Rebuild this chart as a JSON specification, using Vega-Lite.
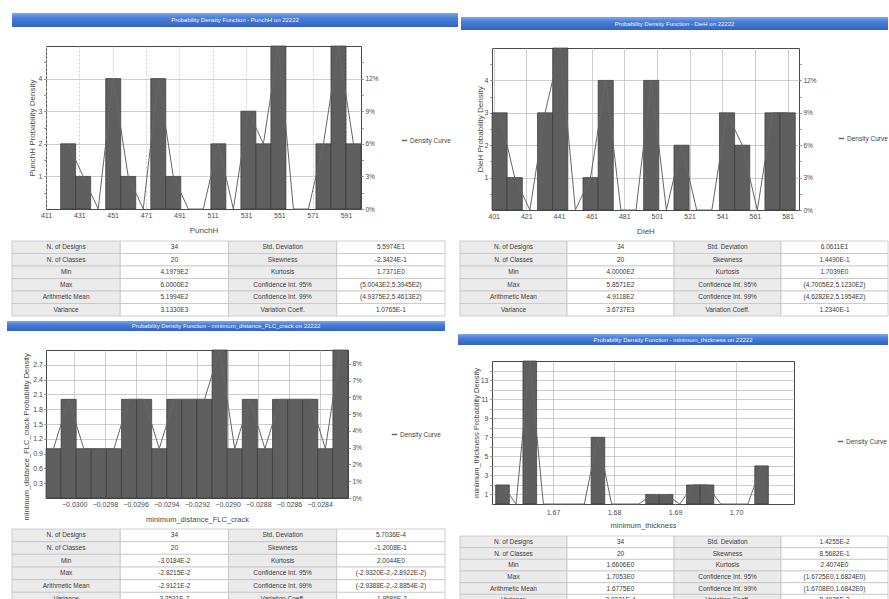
{
  "$schema": "https://vega.github.io/schema/vega-lite/v6.json",
  "padding": {"left": 7, "top": 13, "right": 0, "bottom": 0},
  "background": "white",
  "config": {
    "view": {"stroke": null},
    "font": "Liberation Sans",
    "axis": {
      "labelFont": "Liberation Sans", "labelFontSize": 7, "labelColor": "#4a4a4a",
      "titleFont": "Liberation Sans", "titleFontSize": 8, "titleFontWeight": "normal", "titleColor": "#4a4a4a",
      "domain": false, "gridColor": "#c2c2c2", "gridWidth": 0.8, "tickColor": "#808080", "tickWidth": 0.8,
      "labelOverlap": false, "labelFlush": false
    },
    "legend": {"labelFont": "Liberation Sans"}
  },
  "spacing": 0,
  "resolve": {"scale": {"color": "independent", "x": "independent", "y": "independent"}, "legend": {"color": "independent"}},
  "hconcat": [
    {
      "spacing": 0,
      "resolve": {"scale": {"color": "independent", "x": "independent", "y": "independent"}, "legend": {"color": "independent"}},
      "vconcat": [
        {
          "width": 412, "height": 30,
          "data": {"values": [{"label": "Probability Density Function - PunchH on 22222"}]},
          "layer": [
            {"mark": {"type": "rect", "color": {"gradient": "linear", "x1": 0, "y1": 0, "x2": 0, "y2": 1, "stops": [{"offset": 0, "color": "#7ea8ec"}, {"offset": 0.35, "color": "#4a7ed8"}, {"offset": 1, "color": "#3363c4"}]}},
             "encoding": {
               "x": {"datum": 0, "type": "quantitative", "scale": {"domain": [0, 1], "range": [-34, 412]}, "axis": null},
               "x2": {"datum": 1},
               "y": {"datum": 0, "type": "quantitative", "scale": {"domain": [0, 1], "range": [0, 14]}, "axis": null},
               "y2": {"datum": 1}
             }},
            {"mark": {"type": "text", "fontSize": 6, "color": "#fbf8e4"},
             "encoding": {
               "x": {"datum": 0.5, "type": "quantitative"},
               "y": {"datum": 0.5, "type": "quantitative"},
               "text": {"field": "label"}
             }}
          ]
        },
        {
          "width": 315, "height": 163,
          "view": {"stroke": "#4a4a4a", "strokeWidth": 1},
          "data": {"values": [
            {"lo": 419.79, "hi": 428.80, "mid": 424.30, "n": 2},
            {"lo": 428.80, "hi": 437.81, "mid": 433.31, "n": 1},
            {"lo": 437.81, "hi": 446.82, "mid": 442.32, "n": 0},
            {"lo": 446.82, "hi": 455.83, "mid": 451.32, "n": 4},
            {"lo": 455.83, "hi": 464.84, "mid": 460.34, "n": 1},
            {"lo": 464.84, "hi": 473.85, "mid": 469.35, "n": 0},
            {"lo": 473.85, "hi": 482.86, "mid": 478.36, "n": 4},
            {"lo": 482.86, "hi": 491.87, "mid": 487.37, "n": 1},
            {"lo": 491.87, "hi": 500.88, "mid": 496.38, "n": 0},
            {"lo": 500.88, "hi": 509.90, "mid": 505.39, "n": 0},
            {"lo": 509.90, "hi": 518.91, "mid": 514.40, "n": 2},
            {"lo": 518.91, "hi": 527.92, "mid": 523.41, "n": 0},
            {"lo": 527.92, "hi": 536.93, "mid": 532.42, "n": 3},
            {"lo": 536.93, "hi": 545.94, "mid": 541.43, "n": 2},
            {"lo": 545.94, "hi": 554.95, "mid": 550.44, "n": 5},
            {"lo": 554.95, "hi": 563.96, "mid": 559.45, "n": 0},
            {"lo": 563.96, "hi": 572.97, "mid": 568.47, "n": 0},
            {"lo": 572.97, "hi": 581.98, "mid": 577.48, "n": 2},
            {"lo": 581.98, "hi": 590.99, "mid": 586.49, "n": 5},
            {"lo": 590.99, "hi": 600.00, "mid": 595.50, "n": 2}
          ]},
          "layer": [
            {
              "transform": [{"filter": "datum.n > 0"}],
              "mark": {"type": "rect", "fill": "#5f5f5f", "stroke": "#383838", "strokeWidth": 0.7},
              "encoding": {
                "x": {"field": "lo", "type": "quantitative", "title": "PunchH",
                      "scale": {"domain": [411, 600], "nice": false, "zero": false},
                      "axis": {"values": [411, 431, 451, 471, 491, 511, 531, 551, 571, 591], "format": "d", "grid": true, "gridDash": [2, 2], "ticks": false, "labelPadding": 2, "titlePadding": 8, "labelOverlap": false}},
                "x2": {"field": "hi"},
                "y": {"field": "n", "type": "quantitative", "title": "PunchH Probability Density",
                      "scale": {"domain": [0, 5], "nice": false},
                      "axis": {"orient": "left", "values": [0.5, 1, 1.5, 2, 2.5, 3, 3.5, 4, 4.5],
                               "labelExpr": "datum.value % 1 === 0 ? format(datum.value, 'd') : ''",
                               "gridOpacity": {"condition": {"test": "datum.value % 1 !== 0", "value": 0}, "value": 1},
                               "tickSize": 2.5, "labelPadding": 1.5, "minExtent": 20, "titleX": -9.5, "labelOverlap": false}}
              }
            },
            {
              "mark": {"type": "line", "strokeWidth": 1},
              "encoding": {
                "x": {"field": "mid", "type": "quantitative", "title": "PunchH",
                      "axis": {"values": [411, 431, 451, 471, 491, 511, 531, 551, 571, 591], "format": "d", "grid": true, "gridDash": [2, 2], "ticks": false, "labelPadding": 2, "titlePadding": 8, "labelOverlap": false}},
                "y": {"field": "n", "type": "quantitative", "title": null,
                      "axis": {"orient": "right", "grid": false, "values": [0, 0.5, 1, 1.5, 2, 2.5, 3, 3.5, 4, 4.5],
                               "labelExpr": "datum.value % 1 === 0 ? format(datum.value / 34, '.0%') : ''",
                               "tickSize": 2.5, "labelPadding": 1.5, "labelFontSize": 6.5, "labelOverlap": false}},
                "color": {"datum": "Density Curve", "type": "nominal", "scale": {"range": ["#666666"]},
                          "legend": {"orient": "none", "legendX": 355, "legendY": 91, "title": null, "padding": 0,
                                     "labelFontSize": 6.5, "labelColor": "#444", "symbolType": "stroke", "symbolSize": 30,
                                     "symbolStrokeWidth": 1.5, "symbolStrokeColor": "#444", "labelOffset": 2}}
              }
            }
          ],
          "resolve": {"axis": {"y": "independent"}}
        },
        {
          "width": 399, "height": 81,
          "data": {"values": [
            {"r": 1, "A": "N. of Designs", "B": "34", "C": "Std. Deviation", "D": "5.5974E1"},
            {"r": 2, "A": "N. of Classes", "B": "20", "C": "Skewness", "D": "-2.3424E-1"},
            {"r": 3, "A": "Min", "B": "4.1979E2", "C": "Kurtosis", "D": "1.7371E0"},
            {"r": 4, "A": "Max", "B": "6.0000E2", "C": "Confidence Int. 95%", "D": "(5.0043E2,5.3945E2)"},
            {"r": 5, "A": "Arithmetic Mean", "B": "5.1994E2", "C": "Confidence Int. 99%", "D": "(4.9375E2,5.4613E2)"},
            {"r": 6, "A": "Variance", "B": "3.1330E3", "C": "Variation Coeff.", "D": "1.0765E-1"}
          ]},
          "transform": [{"fold": ["A", "B", "C", "D"], "as": ["c", "t"]}],
          "encoding": {
            "x": {"field": "c", "type": "nominal", "scale": {"range": [-34, 399], "paddingInner": 0, "paddingOuter": 0}, "axis": null},
            "y": {"field": "r", "type": "ordinal", "scale": {"range": [6, 81], "paddingInner": 0, "paddingOuter": 0}, "axis": null}
          },
          "layer": [
            {"mark": {"type": "rect", "stroke": "#c4c4c4", "strokeWidth": 0.8},
             "encoding": {"fill": {"condition": {"test": "datum.c === 'A' || datum.c === 'C'", "value": "#ebebeb"}, "value": "#ffffff"}}},
            {"mark": {"type": "text", "fontSize": 6.5, "color": "#3a3a3a"},
             "encoding": {"text": {"field": "t"}}}
          ]
        },
        {
          "width": 399, "height": 30,
          "data": {"values": [{"label": "Probability Density Function - minimum_distance_FLC_crack on 22222"}]},
          "layer": [
            {"mark": {"type": "rect", "color": {"gradient": "linear", "x1": 0, "y1": 0, "x2": 0, "y2": 1, "stops": [{"offset": 0, "color": "#7ea8ec"}, {"offset": 0.35, "color": "#4a7ed8"}, {"offset": 1, "color": "#3363c4"}]}},
             "encoding": {
               "x": {"datum": 0, "type": "quantitative", "scale": {"domain": [0, 1], "range": [-39, 399]}, "axis": null},
               "x2": {"datum": 1},
               "y": {"datum": 0, "type": "quantitative", "scale": {"domain": [0, 1], "range": [4, 14]}, "axis": null},
               "y2": {"datum": 1}
             }},
            {"mark": {"type": "text", "fontSize": 6, "color": "#fbf8e4"},
             "encoding": {
               "x": {"datum": 0.5, "type": "quantitative"},
               "y": {"datum": 0.5, "type": "quantitative"},
               "text": {"field": "label"}
             }}
          ]
        },
        {
          "width": 302, "height": 148,
          "view": {"stroke": "#4a4a4a", "strokeWidth": 1},
          "data": {"values": [
            {"lo": -0.030184, "hi": -0.0300856, "mid": -0.0301348, "n": 1},
            {"lo": -0.0300856, "hi": -0.0299871, "mid": -0.0300364, "n": 2},
            {"lo": -0.0299871, "hi": -0.0298887, "mid": -0.0299379, "n": 1},
            {"lo": -0.0298887, "hi": -0.0297902, "mid": -0.0298395, "n": 1},
            {"lo": -0.0297902, "hi": -0.0296918, "mid": -0.0297410, "n": 1},
            {"lo": -0.0296918, "hi": -0.0295933, "mid": -0.0296426, "n": 2},
            {"lo": -0.0295933, "hi": -0.0294949, "mid": -0.0295441, "n": 2},
            {"lo": -0.0294949, "hi": -0.0293964, "mid": -0.0294457, "n": 1},
            {"lo": -0.0293964, "hi": -0.0292980, "mid": -0.0293472, "n": 2},
            {"lo": -0.0292980, "hi": -0.0291995, "mid": -0.0292488, "n": 2},
            {"lo": -0.0291995, "hi": -0.0291011, "mid": -0.0291503, "n": 2},
            {"lo": -0.0291011, "hi": -0.0290026, "mid": -0.0290519, "n": 3},
            {"lo": -0.0290026, "hi": -0.0289042, "mid": -0.0289534, "n": 1},
            {"lo": -0.0289042, "hi": -0.0288057, "mid": -0.0288550, "n": 2},
            {"lo": -0.0288057, "hi": -0.0287073, "mid": -0.0287565, "n": 1},
            {"lo": -0.0287073, "hi": -0.0286088, "mid": -0.0286581, "n": 2},
            {"lo": -0.0286088, "hi": -0.0285104, "mid": -0.0285596, "n": 2},
            {"lo": -0.0285104, "hi": -0.0284119, "mid": -0.0284612, "n": 2},
            {"lo": -0.0284119, "hi": -0.0283135, "mid": -0.0283627, "n": 1},
            {"lo": -0.0283135, "hi": -0.028215, "mid": -0.0282643, "n": 3}
          ]},
          "layer": [
            {
              "mark": {"type": "rect", "fill": "#5f5f5f", "stroke": "#383838", "strokeWidth": 0.7},
              "encoding": {
                "x": {"field": "lo", "type": "quantitative", "title": "minimum_distance_FLC_crack",
                      "scale": {"domain": [-0.030184, -0.028215], "nice": false, "zero": false},
                      "axis": {"values": [-0.0300, -0.0298, -0.0296, -0.0294, -0.0292, -0.0290, -0.0288, -0.0286, -0.0284], "format": ".4f", "grid": true, "ticks": false, "labelPadding": 2, "titlePadding": 8.5, "titleFontSize": 7.5, "labelOverlap": false}},
                "x2": {"field": "hi"},
                "y": {"field": "n", "type": "quantitative", "title": "minimum_distance_FLC_crack Probability Density",
                      "scale": {"domain": [0, 3], "nice": false},
                      "axis": {"orient": "left", "values": [0.3, 0.6, 0.9, 1.2, 1.5, 1.8, 2.1, 2.4, 2.7], "format": ".1f",
                               "tickSize": 2.5, "labelPadding": 1, "minExtent": 20, "labelOverlap": false,
                               "titleX": -16, "titleY": 170, "titleAlign": "left", "titleLimit": 172, "titleFontSize": 7.5}}
              }
            },
            {
              "mark": {"type": "line", "strokeWidth": 1},
              "encoding": {
                "x": {"field": "mid", "type": "quantitative", "title": "minimum_distance_FLC_crack",
                      "axis": {"values": [-0.0300, -0.0298, -0.0296, -0.0294, -0.0292, -0.0290, -0.0288, -0.0286, -0.0284], "format": ".4f", "grid": true, "ticks": false, "labelPadding": 2, "titlePadding": 8.5, "titleFontSize": 7.5, "labelOverlap": false}},
                "y": {"field": "n", "type": "quantitative", "title": null,
                      "axis": {"orient": "right", "grid": false, "values": [0, 0.34, 0.68, 1.02, 1.36, 1.7, 2.04, 2.38, 2.72],
                               "labelExpr": "format(datum.value / 34, '.0%')",
                               "tickSize": 2.5, "labelPadding": 1.5, "labelFontSize": 6.5, "labelOverlap": false}},
                "color": {"datum": "Density Curve", "type": "nominal", "scale": {"range": ["#666666"]},
                          "legend": {"orient": "none", "legendX": 345, "legendY": 81, "title": null, "padding": 0,
                                     "labelFontSize": 6.5, "labelColor": "#444", "symbolType": "stroke", "symbolSize": 30,
                                     "symbolStrokeWidth": 1.5, "symbolStrokeColor": "#444", "labelOffset": 2}}
              }
            }
          ],
          "resolve": {"axis": {"y": "independent"}}
        },
        {
          "width": 399, "height": 76,
          "data": {"values": [
            {"r": 1, "A": "N. of Designs", "B": "34", "C": "Std. Deviation", "D": "5.7036E-4"},
            {"r": 2, "A": "N. of Classes", "B": "20", "C": "Skewness", "D": "-1.2008E-1"},
            {"r": 3, "A": "Min", "B": "-3.0184E-2", "C": "Kurtosis", "D": "2.0044E0"},
            {"r": 4, "A": "Max", "B": "-2.8215E-2", "C": "Confidence Int. 95%", "D": "(-2.9320E-2,-2.8922E-2)"},
            {"r": 5, "A": "Arithmetic Mean", "B": "-2.9121E-2", "C": "Confidence Int. 99%", "D": "(-2.9388E-2,-2.8854E-2)"},
            {"r": 6, "A": "Variance", "B": "3.2531E-7", "C": "Variation Coeff.", "D": "-1.9586E-2"}
          ]},
          "transform": [{"fold": ["A", "B", "C", "D"], "as": ["c", "t"]}],
          "encoding": {
            "x": {"field": "c", "type": "nominal", "scale": {"range": [-34, 399], "paddingInner": 0, "paddingOuter": 0}, "axis": null},
            "y": {"field": "r", "type": "ordinal", "scale": {"range": [5, 81], "paddingInner": 0, "paddingOuter": 0}, "axis": null}
          },
          "layer": [
            {"mark": {"type": "rect", "stroke": "#c4c4c4", "strokeWidth": 0.8},
             "encoding": {"fill": {"condition": {"test": "datum.c === 'A' || datum.c === 'C'", "value": "#ebebeb"}, "value": "#ffffff"}}},
            {"mark": {"type": "text", "fontSize": 6.5, "color": "#3a3a3a"},
             "encoding": {"text": {"field": "t"}}}
          ]
        }
      ]
    },
    {
      "spacing": 0,
      "resolve": {"scale": {"color": "independent", "x": "independent", "y": "independent"}, "legend": {"color": "independent"}},
      "vconcat": [
        {
          "width": 396, "height": 32,
          "data": {"values": [{"label": "Probability Density Function - DieH on 22222"}]},
          "layer": [
            {"mark": {"type": "rect", "color": {"gradient": "linear", "x1": 0, "y1": 0, "x2": 0, "y2": 1, "stops": [{"offset": 0, "color": "#7ea8ec"}, {"offset": 0.35, "color": "#4a7ed8"}, {"offset": 1, "color": "#3363c4"}]}},
             "encoding": {
               "x": {"datum": 0, "type": "quantitative", "scale": {"domain": [0, 1], "range": [-31, 396]}, "axis": null},
               "x2": {"datum": 1},
               "y": {"datum": 0, "type": "quantitative", "scale": {"domain": [0, 1], "range": [4, 17]}, "axis": null},
               "y2": {"datum": 1}
             }},
            {"mark": {"type": "text", "fontSize": 6, "color": "#fbf8e4"},
             "encoding": {
               "x": {"datum": 0.5, "type": "quantitative"},
               "y": {"datum": 0.5, "type": "quantitative"},
               "text": {"field": "label"}
             }}
          ]
        },
        {
          "width": 307, "height": 162,
          "view": {"stroke": "#4a4a4a", "strokeWidth": 1},
          "data": {"values": [
            {"lo": 400.00, "hi": 409.29, "mid": 404.64, "n": 3},
            {"lo": 409.29, "hi": 418.57, "mid": 413.93, "n": 1},
            {"lo": 418.57, "hi": 427.86, "mid": 423.21, "n": 0},
            {"lo": 427.86, "hi": 437.14, "mid": 432.50, "n": 3},
            {"lo": 437.14, "hi": 446.43, "mid": 441.78, "n": 5},
            {"lo": 446.43, "hi": 455.71, "mid": 451.07, "n": 0},
            {"lo": 455.71, "hi": 465.00, "mid": 460.35, "n": 1},
            {"lo": 465.00, "hi": 474.28, "mid": 469.64, "n": 4},
            {"lo": 474.28, "hi": 483.57, "mid": 478.92, "n": 0},
            {"lo": 483.57, "hi": 492.86, "mid": 488.21, "n": 0},
            {"lo": 492.86, "hi": 502.14, "mid": 497.50, "n": 4},
            {"lo": 502.14, "hi": 511.43, "mid": 506.78, "n": 0},
            {"lo": 511.43, "hi": 520.71, "mid": 516.07, "n": 2},
            {"lo": 520.71, "hi": 530.00, "mid": 525.35, "n": 0},
            {"lo": 530.00, "hi": 539.28, "mid": 534.64, "n": 0},
            {"lo": 539.28, "hi": 548.57, "mid": 543.92, "n": 3},
            {"lo": 548.57, "hi": 557.85, "mid": 553.21, "n": 2},
            {"lo": 557.85, "hi": 567.14, "mid": 562.49, "n": 0},
            {"lo": 567.14, "hi": 576.42, "mid": 571.78, "n": 3},
            {"lo": 576.42, "hi": 585.71, "mid": 581.07, "n": 3}
          ]},
          "layer": [
            {
              "transform": [{"filter": "datum.n > 0"}],
              "mark": {"type": "rect", "fill": "#5f5f5f", "stroke": "#383838", "strokeWidth": 0.7},
              "encoding": {
                "x": {"field": "lo", "type": "quantitative", "title": "DieH",
                      "scale": {"domain": [400, 588], "nice": false, "zero": false},
                      "axis": {"values": [401, 421, 441, 461, 481, 501, 521, 541, 561, 581], "format": "d", "grid": true, "ticks": false, "labelPadding": 2, "titlePadding": 8, "labelOverlap": false}},
                "x2": {"field": "hi"},
                "y": {"field": "n", "type": "quantitative", "title": "DieH Probability Density",
                      "scale": {"domain": [0, 5], "nice": false},
                      "axis": {"orient": "left", "values": [0.5, 1, 1.5, 2, 2.5, 3, 3.5, 4, 4.5],
                               "labelExpr": "datum.value % 1 === 0 ? format(datum.value, 'd') : ''",
                               "gridOpacity": {"condition": {"test": "datum.value % 1 !== 0", "value": 0}, "value": 1},
                               "tickSize": 2.5, "labelPadding": 1.5, "minExtent": 20, "titleX": -8, "labelOverlap": false}}
              }
            },
            {
              "mark": {"type": "line", "strokeWidth": 1},
              "encoding": {
                "x": {"field": "mid", "type": "quantitative", "title": "DieH",
                      "axis": {"values": [401, 421, 441, 461, 481, 501, 521, 541, 561, 581], "format": "d", "grid": true, "ticks": false, "labelPadding": 2, "titlePadding": 8, "labelOverlap": false}},
                "y": {"field": "n", "type": "quantitative", "title": null,
                      "axis": {"orient": "right", "grid": false, "values": [0, 0.5, 1, 1.5, 2, 2.5, 3, 3.5, 4, 4.5],
                               "labelExpr": "datum.value % 1 === 0 ? format(datum.value / 34, '.0%') : ''",
                               "tickSize": 2.5, "labelPadding": 1.5, "labelFontSize": 6.5, "labelOverlap": false}},
                "color": {"datum": "Density Curve", "type": "nominal", "scale": {"range": ["#666666"]},
                          "legend": {"orient": "none", "legendX": 346, "legendY": 87, "title": null, "padding": 0,
                                     "labelFontSize": 6.5, "labelColor": "#444", "symbolType": "stroke", "symbolSize": 30,
                                     "symbolStrokeWidth": 1.5, "symbolStrokeColor": "#444", "labelOffset": 2}}
              }
            }
          ],
          "resolve": {"axis": {"y": "independent"}}
        },
        {
          "width": 396, "height": 80,
          "data": {"values": [
            {"r": 1, "A": "N. of Designs", "B": "34", "C": "Std. Deviation", "D": "6.0611E1"},
            {"r": 2, "A": "N. of Classes", "B": "20", "C": "Skewness", "D": "1.4490E-1"},
            {"r": 3, "A": "Min", "B": "4.0000E2", "C": "Kurtosis", "D": "1.7039E0"},
            {"r": 4, "A": "Max", "B": "5.8571E2", "C": "Confidence Int. 95%", "D": "(4.7005E2,5.1230E2)"},
            {"r": 5, "A": "Arithmetic Mean", "B": "4.9118E2", "C": "Confidence Int. 99%", "D": "(4.6282E2,5.1954E2)"},
            {"r": 6, "A": "Variance", "B": "3.6737E3", "C": "Variation Coeff.", "D": "1.2340E-1"}
          ]},
          "transform": [{"fold": ["A", "B", "C", "D"], "as": ["c", "t"]}],
          "encoding": {
            "x": {"field": "c", "type": "nominal", "scale": {"range": [-32, 396], "paddingInner": 0, "paddingOuter": 0}, "axis": null},
            "y": {"field": "r", "type": "ordinal", "scale": {"range": [5, 80], "paddingInner": 0, "paddingOuter": 0}, "axis": null}
          },
          "layer": [
            {"mark": {"type": "rect", "stroke": "#c4c4c4", "strokeWidth": 0.8},
             "encoding": {"fill": {"condition": {"test": "datum.c === 'A' || datum.c === 'C'", "value": "#ebebeb"}, "value": "#ffffff"}}},
            {"mark": {"type": "text", "fontSize": 6.5, "color": "#3a3a3a"},
             "encoding": {"text": {"field": "t"}}}
          ]
        },
        {
          "width": 396, "height": 41,
          "data": {"values": [{"label": "Probability Density Function - minimum_thickness on 22222"}]},
          "layer": [
            {"mark": {"type": "rect", "color": {"gradient": "linear", "x1": 0, "y1": 0, "x2": 0, "y2": 1, "stops": [{"offset": 0, "color": "#7ea8ec"}, {"offset": 0.35, "color": "#4a7ed8"}, {"offset": 1, "color": "#3363c4"}]}},
             "encoding": {
               "x": {"datum": 0, "type": "quantitative", "scale": {"domain": [0, 1], "range": [-34, 396]}, "axis": null},
               "x2": {"datum": 1},
               "y": {"datum": 0, "type": "quantitative", "scale": {"domain": [0, 1], "range": [17, 28]}, "axis": null},
               "y2": {"datum": 1}
             }},
            {"mark": {"type": "text", "fontSize": 6, "color": "#fbf8e4"},
             "encoding": {
               "x": {"datum": 0.5, "type": "quantitative"},
               "y": {"datum": 0.5, "type": "quantitative"},
               "text": {"field": "label"}
             }}
          ]
        },
        {
          "width": 302, "height": 143,
          "view": {"stroke": "#4a4a4a", "strokeWidth": 1},
          "data": {"values": [
            {"lo": 1.66060, "hi": 1.66284, "mid": 1.66172, "n": 2},
            {"lo": 1.66284, "hi": 1.66507, "mid": 1.66395, "n": 0},
            {"lo": 1.66507, "hi": 1.66731, "mid": 1.66619, "n": 15},
            {"lo": 1.66731, "hi": 1.66954, "mid": 1.66842, "n": 0},
            {"lo": 1.66954, "hi": 1.67178, "mid": 1.67066, "n": 0},
            {"lo": 1.67178, "hi": 1.67401, "mid": 1.67289, "n": 0},
            {"lo": 1.67401, "hi": 1.67625, "mid": 1.67513, "n": 0},
            {"lo": 1.67625, "hi": 1.67848, "mid": 1.67736, "n": 7},
            {"lo": 1.67848, "hi": 1.68072, "mid": 1.67960, "n": 0},
            {"lo": 1.68072, "hi": 1.68295, "mid": 1.68183, "n": 0},
            {"lo": 1.68295, "hi": 1.68519, "mid": 1.68407, "n": 0},
            {"lo": 1.68519, "hi": 1.68742, "mid": 1.68630, "n": 1},
            {"lo": 1.68742, "hi": 1.68966, "mid": 1.68854, "n": 1},
            {"lo": 1.68966, "hi": 1.69189, "mid": 1.69077, "n": 0},
            {"lo": 1.69189, "hi": 1.69413, "mid": 1.69301, "n": 2},
            {"lo": 1.69413, "hi": 1.69636, "mid": 1.69524, "n": 2},
            {"lo": 1.69636, "hi": 1.69860, "mid": 1.69748, "n": 0},
            {"lo": 1.69860, "hi": 1.70083, "mid": 1.69971, "n": 0},
            {"lo": 1.70083, "hi": 1.70307, "mid": 1.70195, "n": 0},
            {"lo": 1.70307, "hi": 1.70530, "mid": 1.70418, "n": 4}
          ]},
          "layer": [
            {
              "transform": [{"filter": "datum.n > 0"}],
              "mark": {"type": "rect", "fill": "#5f5f5f", "stroke": "#383838", "strokeWidth": 0.7},
              "encoding": {
                "x": {"field": "lo", "type": "quantitative", "title": "minimum_thickness",
                      "scale": {"domain": [1.66, 1.7095], "nice": false, "zero": false},
                      "axis": {"values": [1.67, 1.68, 1.69, 1.70], "format": ".2f", "grid": true, "ticks": false, "labelPadding": 4, "titlePadding": 6.5, "titleFontSize": 7.5, "labelOverlap": false}},
                "x2": {"field": "hi"},
                "y": {"field": "n", "type": "quantitative", "title": "minimum_thickness Probability Density",
                      "scale": {"domain": [0, 15], "nice": false},
                      "axis": {"orient": "left", "values": [1, 2, 3, 4, 5, 6, 7, 8, 9, 10, 11, 12, 13, 14],
                               "labelExpr": "datum.value % 2 === 1 ? format(datum.value, 'd') : ''",
                               "tickSize": 2.5, "labelPadding": 1.5, "minExtent": 20, "titleX": -11.5, "titleFontSize": 7.5, "labelOverlap": false}}
              }
            },
            {
              "mark": {"type": "line", "strokeWidth": 1},
              "encoding": {
                "x": {"field": "mid", "type": "quantitative", "title": "minimum_thickness",
                      "axis": {"values": [1.67, 1.68, 1.69, 1.70], "format": ".2f", "grid": true, "ticks": false, "labelPadding": 4, "titlePadding": 6.5, "titleFontSize": 7.5, "labelOverlap": false}},
                "y": {"field": "n", "type": "quantitative", "title": "minimum_thickness Probability Density",
                      "axis": {"orient": "left", "values": [1, 2, 3, 4, 5, 6, 7, 8, 9, 10, 11, 12, 13, 14],
                               "labelExpr": "datum.value % 2 === 1 ? format(datum.value, 'd') : ''",
                               "tickSize": 2.5, "labelPadding": 1.5, "minExtent": 20, "titleX": -11.5, "titleFontSize": 7.5, "labelOverlap": false}},
                "color": {"datum": "Density Curve", "type": "nominal", "scale": {"range": ["#666666"]},
                          "legend": {"orient": "none", "legendX": 345, "legendY": 77, "title": null, "padding": 0,
                                     "labelFontSize": 6.5, "labelColor": "#444", "symbolType": "stroke", "symbolSize": 30,
                                     "symbolStrokeWidth": 1.5, "symbolStrokeColor": "#444", "labelOffset": 2}}
              }
            }
          ]
        },
        {
          "width": 396, "height": 70,
          "data": {"values": [
            {"r": 1, "A": "N. of Designs", "B": "34", "C": "Std. Deviation", "D": "1.4255E-2"},
            {"r": 2, "A": "N. of Classes", "B": "20", "C": "Skewness", "D": "8.5682E-1"},
            {"r": 3, "A": "Min", "B": "1.6606E0", "C": "Kurtosis", "D": "2.4074E0"},
            {"r": 4, "A": "Max", "B": "1.7053E0", "C": "Confidence Int. 95%", "D": "(1.6725E0,1.6824E0)"},
            {"r": 5, "A": "Arithmetic Mean", "B": "1.6775E0", "C": "Confidence Int. 99%", "D": "(1.6708E0,1.6842E0)"},
            {"r": 6, "A": "Variance", "B": "2.0321E-4", "C": "Variation Coeff.", "D": "8.4976E-3"}
          ]},
          "transform": [{"fold": ["A", "B", "C", "D"], "as": ["c", "t"]}],
          "encoding": {
            "x": {"field": "c", "type": "nominal", "scale": {"range": [-32, 396], "paddingInner": 0, "paddingOuter": 0}, "axis": null},
            "y": {"field": "r", "type": "ordinal", "scale": {"range": [6, 76], "paddingInner": 0, "paddingOuter": 0}, "axis": null}
          },
          "layer": [
            {"mark": {"type": "rect", "stroke": "#c4c4c4", "strokeWidth": 0.8},
             "encoding": {"fill": {"condition": {"test": "datum.c === 'A' || datum.c === 'C'", "value": "#ebebeb"}, "value": "#ffffff"}}},
            {"mark": {"type": "text", "fontSize": 6.5, "color": "#3a3a3a"},
             "encoding": {"text": {"field": "t"}}}
          ]
        }
      ]
    }
  ]
}
